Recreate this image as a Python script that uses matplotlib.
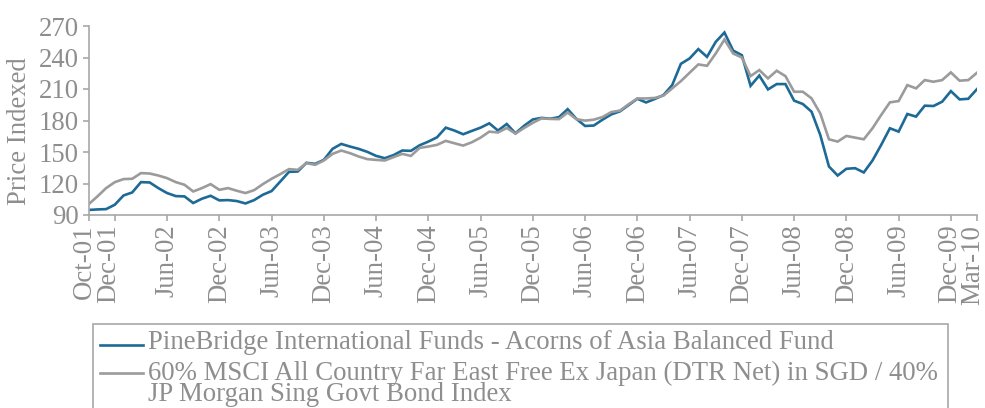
import matplotlib
matplotlib.use("Agg")
import matplotlib.pyplot as plt
from matplotlib.lines import Line2D
from matplotlib.patches import Rectangle
from matplotlib.transforms import ScaledTranslation

# monthly index values
fund = [94.8, 95.3, 95.6, 99.8, 108.6, 111.5, 121.3, 121.0, 115.6, 110.9,
        108.0, 107.7, 101.4, 105.5, 108.3, 103.9, 104.2, 103.3, 101.0, 104.2,
        109.3, 112.8, 121.9, 131.1, 131.4, 139.7, 138.7, 142.5, 153.0, 157.7,
        155.2, 153.0, 150.1, 146.3, 144.1, 147.0, 151.4, 151.1, 156.4, 159.9,
        164.0, 173.2, 170.4, 166.9, 170.1, 173.2, 177.3, 170.4, 176.7, 167.8,
        175.0, 181.0, 182.5, 181.7, 183.2, 190.8, 181.5, 174.8, 175.2, 180.8,
        185.8, 188.7, 194.7, 200.7, 197.2, 200.5, 204.2, 213.7, 234.0, 239.1,
        248.0, 240.6, 254.9, 263.8, 246.6, 242.2, 213.0, 222.8, 209.6, 214.7,
        214.7, 198.9, 195.7, 188.4, 166.3, 136.2, 127.6, 134.0, 134.6, 130.5,
        141.9, 156.8, 172.6, 169.4, 186.2, 183.7, 194.1, 193.8, 197.9, 208.0,
        200.1, 200.7, 209.9]
bench = [100.3, 107.7, 115.6, 121.3, 124.2, 124.5, 129.9, 129.5, 127.6, 125.1,
         121.3, 118.8, 112.4, 115.6, 119.4, 114.0, 115.6, 113.1, 110.9, 113.7,
         119.4, 124.5, 128.9, 133.7, 133.0, 139.4, 137.8, 141.9, 148.2, 151.4,
         148.9, 145.7, 143.2, 142.5, 141.9, 145.1, 148.2, 146.3, 153.9, 155.2,
         156.8, 160.6, 158.3, 156.1, 159.3, 163.7, 169.4, 168.6, 172.9, 167.5,
         172.9, 177.8, 182.0, 181.5, 181.3, 187.6, 181.2, 179.9, 180.8, 183.3,
         188.0, 189.4, 195.5, 201.0, 201.0, 201.5, 203.7, 210.6, 217.5, 225.5,
         233.4, 232.1, 243.8, 257.1, 243.8, 240.0, 222.3, 228.0, 220.1, 227.4,
         222.3, 207.4, 207.4, 201.1, 186.8, 162.1, 159.9, 165.3, 163.7, 162.1,
         172.6, 185.3, 197.3, 198.5, 213.7, 210.6, 218.5, 216.9, 218.5, 225.8,
         217.9, 218.5, 225.5]

tick_pos = [0, 3, 9, 15, 21, 27, 33, 39, 45, 51, 57, 63, 69, 75, 81, 87, 93, 99, 102]
tick_labels = ["Oct-01", "Dec-01", "Jun-02", "Dec-02", "Jun-03", "Dec-03", "Jun-04",
               "Dec-04", "Jun-05", "Dec-05", "Jun-06", "Dec-06", "Jun-07", "Dec-07",
               "Jun-08", "Dec-08", "Jun-09", "Dec-09", "Mar-10"]
y_ticks = [90, 120, 150, 180, 210, 240, 270]

fund_name = "PineBridge International Funds - Acorns of Asia Balanced Fund"
bench_lines = ["60% MSCI All Country Far East Free Ex Japan (DTR Net) in SGD / 40%",
               "JP Morgan Sing Govt Bond Index"]

BLUE = "#1d6a96"
GREY = "#9b9b9b"
TXT = "#8e8e8e"
AX = "#a8a8a8"

plt.rcParams['font.family'] = ['Liberation Serif', 'DejaVu Serif']

W, H = 985, 408
fig = plt.figure(figsize=(W / 100, H / 100), dpi=100)
left, right, top, bottom = 88.7, 977, 26, 215
ax = fig.add_axes([left / W, 1 - bottom / H, (right - left) / W, (bottom - top) / H])

x = list(range(len(fund)))
ax.plot(x, fund, color=BLUE, lw=1.9, solid_joinstyle='miter')
ax.plot(x, bench, color=GREY, lw=1.9, solid_joinstyle='miter')

ax.set_xlim(0, len(fund) - 1)
ax.set_ylim(90, 270)
ax.set_yticks(y_ticks)
ax.set_xticks(tick_pos)
ax.set_xticklabels(tick_labels, rotation=90, va='top', ha='center')

for s in ["top", "right"]:
    ax.spines[s].set_visible(False)
for s in ["left", "bottom"]:
    ax.spines[s].set_color(AX)
    ax.spines[s].set_linewidth(1.2)
ax.tick_params(axis='both', colors=AX, labelcolor=TXT, labelsize=19.3, length=4, width=1.2)
ax.tick_params(axis='y', pad=3)
ax.tick_params(axis='x', pad=3)

# the crowded labels at both ends are nudged left, as in the original
shifts = {"Oct-01": -4, "Dec-01": -6, "Dec-09": -1, "Mar-10": -4}
for lab in ax.get_xticklabels():
    dx = shifts.get(lab.get_text(), 0)
    if dx:
        lab.set_transform(lab.get_transform() + ScaledTranslation(dx / 100, 0, fig.dpi_scale_trans))

ax.set_ylabel("Price Indexed", color=TXT, fontsize=19.3)
ax.yaxis.set_label_coords((32 - left) / (right - left), (bottom - 131) / (bottom - top))

# legend box drawn by hand so the wrapped second entry lines up like the original
def fy(py):
    return 1 - py / H

fig.patches.append(Rectangle((92.7 / W, fy(420)), (948 - 92.7) / W, (420 - 324) / H,
                             transform=fig.transFigure, fill=False, edgecolor=AX, lw=1.2))
fig.lines.append(Line2D([100 / W, 143 / W], [fy(345), fy(345)], transform=fig.transFigure,
                        color=BLUE, lw=1.9))
fig.lines.append(Line2D([100 / W, 143 / W], [fy(373), fy(373)], transform=fig.transFigure,
                        color=GREY, lw=1.9))
fig.text(148 / W, fy(349), fund_name, color=TXT, fontsize=19.3, va='baseline')
fig.text(148 / W, fy(380), bench_lines[0], color=TXT, fontsize=19.3, va='baseline')
fig.text(148 / W, fy(401), bench_lines[1], color=TXT, fontsize=19.3, va='baseline')

fig.savefig("out.png", dpi=100)
